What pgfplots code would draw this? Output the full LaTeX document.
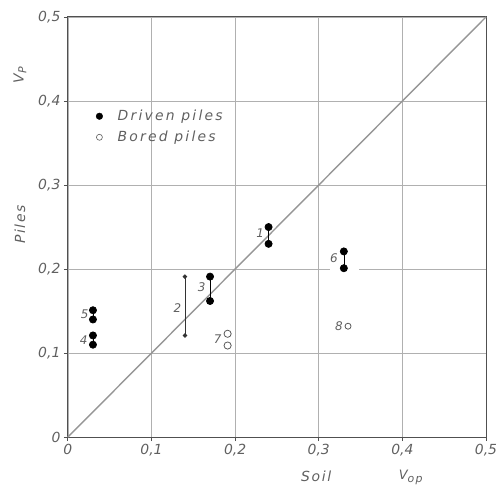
\documentclass[border=0pt]{standalone}
\usepackage{pgfplots}
\pgfplotsset{compat=1.18}
\usetikzlibrary{calc}
\usepackage{fontspec}
\setmainfont{DejaVu Sans}[LetterSpace=12]
\newfontfamily\tickfont{DejaVu Sans}
\newfontfamily\legfont{DejaVu Sans}[LetterSpace=16]
\definecolor{txt}{HTML}{606060}
\definecolor{axl}{HTML}{505050}
\definecolor{grd}{HTML}{B0B0B0}
\begin{document}
\begin{tikzpicture}[x=1bp,y=1bp]
\begin{axis}[
    name=ax,
    width=419bp, height=421bp,
    scale only axis,
    xmin=0, xmax=0.5, ymin=0, ymax=0.5,
    xtick={0,0.1,0.2,0.3,0.4,0.5},
    ytick={0,0.1,0.2,0.3,0.4,0.5},
    xticklabels={0,{0,1},{0,2},{0,3},{0,4},{0,5}},
    yticklabels={0,{0,1},{0,2},{0,3},{0,4},{0,5}},
    ticklabel style={font=\tickfont\fontsize{14}{15}\selectfont\itshape, text=txt},
    tick pos=left, tick align=outside,
    major tick length=4bp,
    tick style={axl, line width=0.8bp},
    axis line style={axl, line width=1bp},
    grid=major,
    major grid style={grd, line width=0.7bp},
    clip=false,
    legend style={draw=none, fill=none, at={(axis cs:0.030,0.394)}, anchor=north west,
        font=\legfont\fontsize{14}{15}\selectfont\itshape, text=txt, row sep=5bp,
        nodes={inner xsep=6bp},
        /tikz/every odd column/.append style={column sep=9bp}},
    legend cell align=left,
]
% diagonal
\addplot[grd!85!black, line width=1.4bp, forget plot] coordinates {(0,0) (0.5,0.5)};
% gap in grid line round pile 6
\fill[white] ($(axis cs:0.33,0.2)+(-14bp,-2bp)$) rectangle ($(axis cs:0.33,0.2)+(15bp,2bp)$);
% legend entries
\addplot[only marks, mark=*, mark size=3.3bp, black] coordinates {(1,1)};
\addlegendentry{Driven piles}
\addplot[only marks, mark=o, mark size=3.0bp, black!65, mark options={line width=0.6bp}] coordinates {(1,1)};
\addlegendentry{Bored piles}
% driven piles
\addplot[black, line width=0.7bp, mark=*, mark size=3.6bp, forget plot] coordinates {(0.24,0.23) (0.24,0.25)};
\addplot[black!80, line width=0.8bp, mark=*, mark size=1.8bp, forget plot] coordinates {(0.14,0.121) (0.14,0.191)};
\addplot[black, line width=0.7bp, mark=*, mark size=3.6bp, forget plot] coordinates {(0.17,0.162) (0.17,0.191)};
\addplot[black, line width=0.7bp, mark=*, mark size=3.6bp, forget plot] coordinates {(0.03,0.11) (0.03,0.121)};
\addplot[black, line width=0.7bp, mark=*, mark size=3.6bp, forget plot] coordinates {(0.03,0.14) (0.03,0.151)};
\addplot[black, line width=0.7bp, mark=*, mark size=3.6bp, forget plot] coordinates {(0.33,0.201) (0.33,0.221)};
% bored piles
\addplot[only marks, mark=o, mark size=3.6bp, black!65, mark options={line width=0.8bp}, forget plot] coordinates {(0.191,0.109) (0.191,0.123)};
\addplot[only marks, mark=o, mark size=3.0bp, black!65, mark options={line width=0.8bp}, forget plot] coordinates {(0.335,0.132)};
% pile numbers
\begin{scope}[every node/.style={font=\tickfont\fontsize{12}{13}\selectfont\itshape, text=txt, inner sep=0.5bp}]
\node at (axis cs:0.230,0.243) {1};
\node at (axis cs:0.131,0.154) {2};
\node at (axis cs:0.160,0.178) {3};
\node at (axis cs:0.019,0.115) {4};
\node at (axis cs:0.020,0.146) {5};
\node at (axis cs:0.318,0.213) {6};
\node at (axis cs:0.179,0.116) {7};
\node at (axis cs:0.324,0.132) {8};
\end{scope}
% axis labels
\begin{scope}[every node/.style={font=\fontsize{14}{15}\selectfont\itshape, text=txt}]
\node[rotate=90] at ($(axis cs:0,0.253)+(-48bp,0)$) {Piles};
\node[rotate=90] at ($(axis cs:0,0.431)+(-48bp,0)$) {V\raisebox{-0.35ex}{\fontsize{11}{12}\selectfont P}};
\node at ($(axis cs:0.297,0)+(0,-39bp)$) {Soil};
\node at ($(axis cs:0.410,0)+(0,-40bp)$) {\fontsize{13}{14}\selectfont V\raisebox{-0.4ex}{\fontsize{11}{12}\selectfont op}};
\end{scope}
\end{axis}
\pgfresetboundingbox
\path[use as bounding box] ($(ax.south west)+(-68bp,-48bp)$) rectangle ($(ax.north east)+(11bp,17bp)$);
\end{tikzpicture}
\end{document}
